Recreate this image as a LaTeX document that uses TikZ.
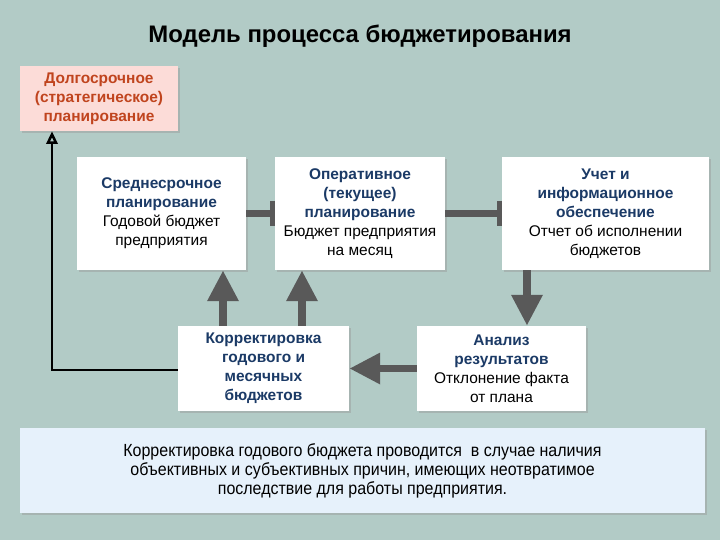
\documentclass[tikz,border=0pt]{standalone}
\usepackage{fontspec}
\setmainfont{Liberation Sans}
\newfontfamily\narrowfont[FakeStretch=0.91]{Liberation Sans}
\usetikzlibrary{arrows.meta,shadows}
\definecolor{bgteal}{HTML}{B2CBC6}
\definecolor{navy}{HTML}{1B3A66}
\definecolor{rust}{HTML}{C0441E}
\definecolor{pinkfill}{HTML}{FCDCD8}
\definecolor{notefill}{HTML}{E6F1FB}
\definecolor{arrgray}{HTML}{595959}
\begin{document}
\begin{tikzpicture}[
    box/.style={fill=white, align=center, inner sep=2pt, font=\fontsize{11}{13.5}\selectfont,
      drop shadow={shadow xshift=0.04cm, shadow yshift=-0.04cm, fill=black!40, opacity=.45}},
    fat/.style={line width=5.5pt, arrgray, -{Triangle[width=21pt,length=22pt]}},
    barred/.style={line width=5.5pt, arrgray, -{Bar[width=18pt,line width=3.5pt]}}
  ]
  \fill [bgteal] (0, 0) rectangle (18, -13.5);
  \useasboundingbox (0, 0) rectangle (18, -13.5);

  \node (title) at (9, -0.9) {\fontsize{17}{20}\selectfont\bfseries Модель процесса бюджетирования};

  \node [box, fill=pinkfill, minimum width=3.95cm, minimum height=1.625cm, text=rust] (long) at (2.475, -2.4625)
    {\bfseries Долгосрочное\\\bfseries (стратегическое)\\\bfseries планирование};
  \node [box, minimum width=4.225cm, minimum height=2.825cm] (mid) at (4.0375, -5.3375)
    {\textcolor{navy}{\bfseries Среднесрочное}\\\textcolor{navy}{\bfseries планирование}\\Годовой бюджет\\предприятия};
  \node [box, minimum width=4.25cm, minimum height=2.825cm] (oper) at (9.0, -5.3375)
    {\textcolor{navy}{\bfseries Оперативное}\\\textcolor{navy}{\bfseries (текущее)}\\\textcolor{navy}{\bfseries планирование}\\Бюджет предприятия\\на месяц};
  \node [box, minimum width=5.175cm, minimum height=2.825cm] (uchet) at (15.1375, -5.3375)
    {\textcolor{navy}{\bfseries Учет и}\\\textcolor{navy}{\bfseries информационное}\\\textcolor{navy}{\bfseries обеспечение}\\Отчет об исполнении\\бюджетов};
  \node [box, minimum width=4.275cm, minimum height=2.125cm, text=navy] (korr) at (6.5875, -9.2125)
    {\bfseries Корректировка\\\bfseries годового и\\\bfseries месячных\\\bfseries бюджетов};
  \node [box, minimum width=4.225cm, minimum height=2.125cm] (anal) at (12.5375, -9.2125)
    {\textcolor{navy}{\bfseries Анализ}\\\textcolor{navy}{\bfseries результатов}\\Отклонение факта\\от плана};
  \node [box, fill=notefill, minimum width=17.125cm, minimum height=2.125cm, font=\narrowfont\fontsize{12.5}{13.5}\selectfont] (note) at (9.0625, -11.7625)
    {Корректировка годового бюджета проводится \ в случае наличия\\объективных и субъективных причин, имеющих неотвратимое\\последствие для работы предприятия.};

  \draw [barred] (mid.east) -- (oper.west);
  \draw [barred] (oper.east) -- (uchet.west);
  \draw [fat] ([xshift=-1.0125cm]korr.north) -- ([xshift=-1.0125cm]korr.north |- mid.south);
  \draw [fat] ([xshift=0.9625cm]korr.north) -- ([xshift=0.9625cm]korr.north |- oper.south);
  \draw [fat] ([xshift=-1.9625cm]uchet.south) -- ([xshift=-1.9625cm]uchet.south |- anal.north);
  \draw [fat] (anal.west) -- (korr.east);
  \draw [line width=1.8pt, -{Triangle[open, width=8pt, length=9pt]}] ([yshift=-0.04cm]korr.west) -| ([xshift=-1.175cm]long.south);
\end{tikzpicture}
\end{document}
